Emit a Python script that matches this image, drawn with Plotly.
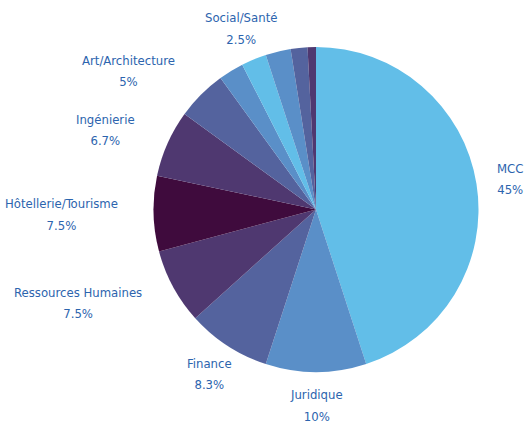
import math

import plotly.graph_objects as go

# Répartition par domaine (ordre horaire depuis midi)
labels = [
    "MCC",
    "Juridique",
    "Finance",
    "Ressources Humaines",
    "Hôtellerie/Tourisme",
    "Ingénierie",
    "Art/Architecture",
    "Autre 1",
    "Social/Santé",
    "Autre 2",
    "Autre 3",
    "Autre 4",
]
counts = [54, 12, 10, 9, 9, 8, 6, 3, 3, 3, 2, 1]
shown = [True, True, True, True, True, True, True, False, True, False, False, False]

colors = [
    "#62BEE8",
    "#5A8FC8",
    "#54639E",
    "#4F3870",
    "#3F0B3D",
    "#4F3870",
    "#54639E",
    "#5A8FC8",
    "#62BEE8",
    "#5A8FC8",
    "#54639E",
    "#4F3870",
]

W, H = 526, 421
CX, CY, R = 316, 209.5, 162.5
LABEL_DIST = 196
LINE_GAP = 21.5
FONT_SIZE = 13
TEXT_COLOR = "#2C64AE"
FONT = "DejaVu Sans Condensed, Liberation Sans Narrow, Roboto, sans-serif"

fig = go.Figure(
    go.Pie(
        labels=labels,
        values=counts,
        sort=False,
        direction="clockwise",
        rotation=0,
        marker=dict(colors=colors, line=dict(width=0)),
        textinfo="none",
        hoverinfo="label+percent",
        domain=dict(
            x=[(CX - R) / W, (CX + R) / W],
            y=[1 - (CY + R) / H, 1 - (CY - R) / H],
        ),
        showlegend=False,
    )
)

# étiquettes extérieures placées sur l'angle médian de chaque part
total = sum(counts)
half_plotly_line = 1.3 * FONT_SIZE / 2
cum = 0
for name, v, show in zip(labels, counts, shown):
    mid = (cum + v / 2) / total * 2 * math.pi
    cum += v
    if not show:
        continue
    dx, dy = math.sin(mid), -math.cos(mid)
    px_ = CX + dx * LABEL_DIST
    py_ = CY + dy * LABEL_DIST
    xanchor = "right" if dx < -0.6 else "center"
    pct = f"{v / total * 100:.1f}".rstrip("0").rstrip(".") + "%"
    font = dict(family=FONT, size=FONT_SIZE, color=TEXT_COLOR)

    # nom
    fig.add_annotation(
        text=name, x=px_ / W, y=1 - (py_ - LINE_GAP / 2) / H,
        xref="paper", yref="paper", xanchor=xanchor, yanchor="middle",
        showarrow=False, font=font,
    )
    # pourcentage centré sous le nom (nom invisible pour garder la largeur)
    fig.add_annotation(
        text=f"<span style='color:rgba(0,0,0,0)'>{name}</span><br>{pct}",
        x=px_ / W, y=1 - (py_ + LINE_GAP / 2 - half_plotly_line) / H,
        xref="paper", yref="paper", xanchor=xanchor, yanchor="middle",
        align="center", showarrow=False, font=font,
    )

fig.update_layout(
    width=W,
    height=H,
    margin=dict(l=0, r=0, t=0, b=0),
    paper_bgcolor="white",
    plot_bgcolor="white",
)

fig.write_html(
    "out.html",
    config={"displayModeBar": False},
    post_script="document.body.style.margin='0';",
)
